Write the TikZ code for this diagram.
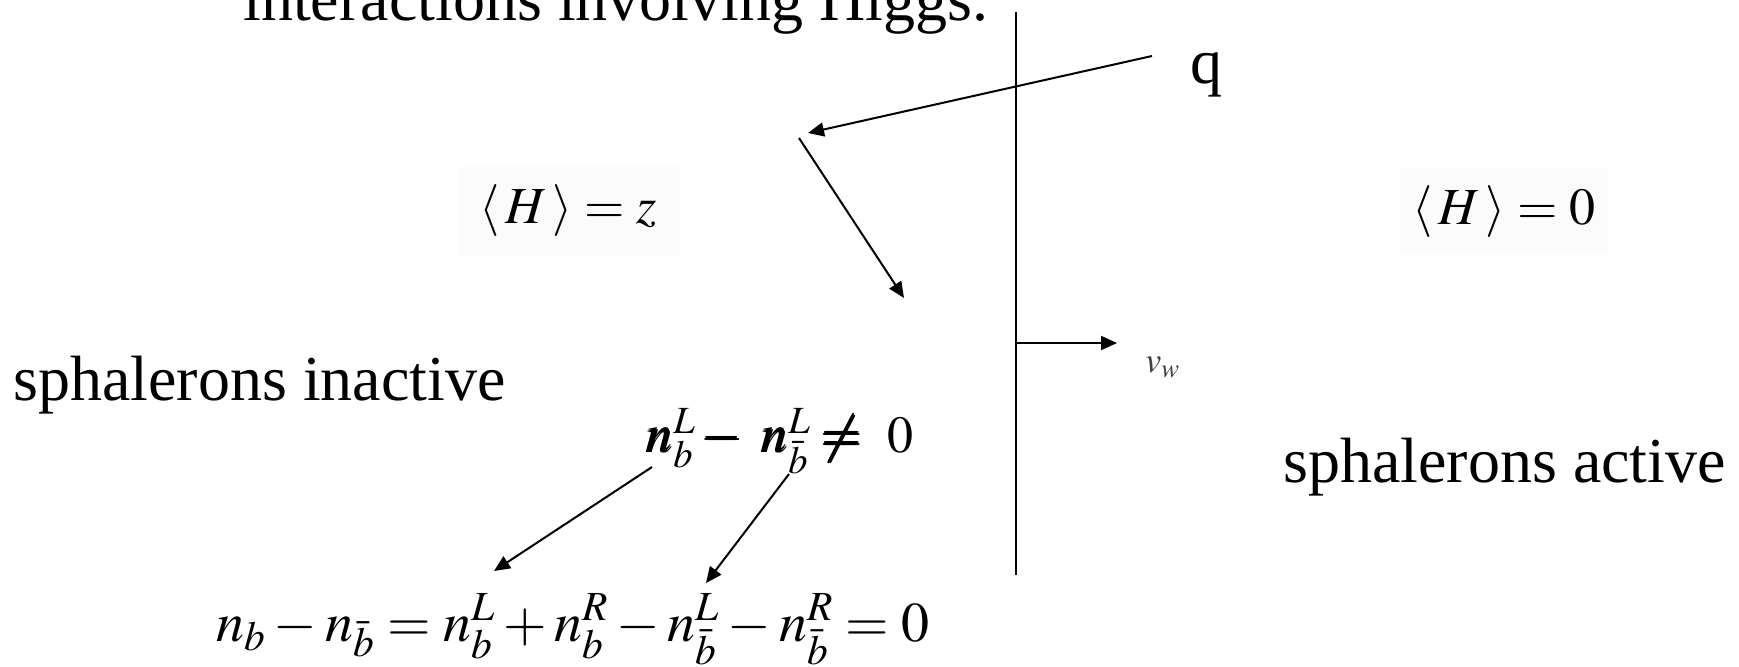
\documentclass[tikz,border=0pt]{standalone}
\usepackage{amsmath,amssymb}
\usepackage{mathptmx}
\usepackage{fontspec}
\setmainfont{Liberation Serif}
\usepackage{tikz}
\usetikzlibrary{arrows.meta}
\definecolor{vevgray}{RGB}{251,251,251}
\tikzset{
  slidetext/.style={font=\fontsize{32}{38}\selectfont, inner sep=0pt, anchor=base west},
  vev/.style={fill=vevgray, inner sep=0pt, font=\fontsize{26}{30}\selectfont},
  wall/.style={line width=1pt},
  arr/.style={line width=1pt, -{Triangle[length=8pt,width=7pt]}},
}

\begin{document}
\begin{tikzpicture}[x=0.5pt,y=-0.5pt]
    \useasboundingbox (0,0) rectangle (1739,666);

    % Headline, cut off at the top
    \node[slidetext] (head) at (243,20) {interactions involving Higgs.};

    % Bubble wall
    \coordinate (walltop) at (1016,12);
    \coordinate (wallbot) at (1016,575);
    \draw[wall] (walltop) -- (wallbot);
    \coordinate (wallmid) at (1016,343);
    \coordinate (walltip) at (1117,343);
    \draw[arr] (wallmid) -- (walltip);
    \node[inner sep=0pt, anchor=base west, text=black!75, font=\fontsize{18}{20}\selectfont] (vw) at (1145,372) {$v_w$};

    % Quark hitting the wall
    \node[slidetext] (q) at (1190,83) {q};
    \coordinate (qin) at (1152,56);
    \coordinate (qhit) at (808,133);
    \coordinate (qout) at (799,138);
    \coordinate (qend) at (904,298);
    \draw[arr] (qin) -- (qhit);
    \draw[arr] (qout) -- (qend);

    % Higgs vev on both sides
    \node[vev, minimum width=111.5pt, minimum height=44.5pt] (hbroken) at (568,211) {$\langle\, H\,\rangle = z$};
    \node[vev, minimum width=104pt, minimum height=43.5pt] (hsym) at (1504,211.5) {$\langle\, H\,\rangle = 0$};

    % Sphaleron phases
    \node[slidetext] (inactive) at (13,400) {sphalerons inactive};
    \node[slidetext] (active) at (1283,482) {sphalerons active};

    % Baryon number
    \node[inner sep=0pt, anchor=base west, font=\fontsize{26}{30}\selectfont] (lasym) at (647,452)
        {$\pmb{n}^{L}_{b}\pmb{-}\;\pmb{n}^{L}_{\bar b}\pmb{\neq}\ 0$};
    \node[inner sep=0pt, anchor=base west, font=\fontsize{28}{32}\selectfont] (total) at (216,641)
        {$n_{b} - n_{\bar b} = n_{b}^{L} + n_{b}^{R} - n_{\bar b}^{L} - n_{\bar b}^{R} = 0$};
    \coordinate (nbfrom) at (652,467);
    \coordinate (nbto) at (494,571);
    \coordinate (nbbfrom) at (789,474);
    \coordinate (nbbto) at (706,583);
    \draw[arr] (nbfrom) -- (nbto);
    \draw[arr] (nbbfrom) -- (nbbto);
\end{tikzpicture}
\end{document}
